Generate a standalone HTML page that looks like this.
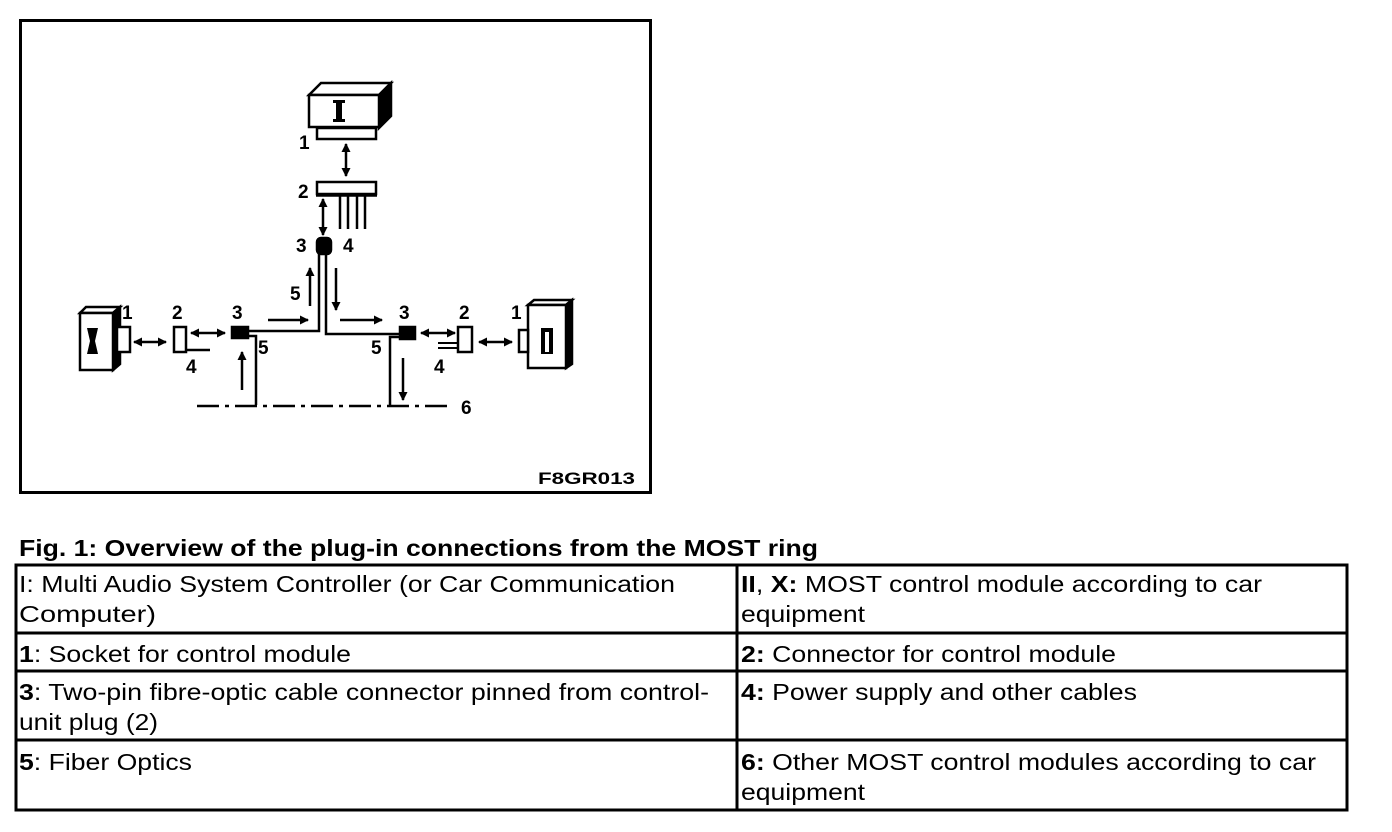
<!DOCTYPE html>
<html><head><meta charset="utf-8"><style>
html,body{margin:0;padding:0;background:#fff}
svg{display:block}
text{font-family:"Liberation Sans",Arial,sans-serif}
.l{font-weight:bold;font-size:19px}
.t{font-size:23px}
</style></head><body>
<svg width="1392" height="832" viewBox="0 0 1392 832" xmlns="http://www.w3.org/2000/svg">
<defs>
<marker id="a" markerWidth="9" markerHeight="9" refX="8" refY="4.5" orient="auto" markerUnits="userSpaceOnUse"><path d="M0,0 L9,4.5 L0,9 z" fill="#000"/></marker>
<marker id="b" markerWidth="9" markerHeight="9" refX="1" refY="4.5" orient="auto" markerUnits="userSpaceOnUse"><path d="M9,0 L0,4.5 L9,9 z" fill="#000"/></marker>
</defs>
<rect x="20.5" y="20.5" width="630" height="472" fill="none" stroke="#000" stroke-width="3"/>
<g stroke="#000" fill="none" stroke-width="2.5">
<path d="M309,95 L321,83 L391,83 L379,95 Z" fill="#fff"/>
<path d="M379,95 L391,83 L391,116 L379,128 Z" fill="#000"/>
<rect x="309" y="95" width="70" height="32" fill="#fff"/>
<rect x="317" y="128" width="59" height="11" fill="#fff"/>
<line x1="346" y1="144" x2="346" y2="176" marker-start="url(#b)" marker-end="url(#a)"/>
<rect x="317" y="182" width="59" height="12" fill="#fff" stroke-width="2.5"/>
<line x1="316" y1="195" x2="377" y2="195" stroke-width="3.5"/>
<line x1="340" y1="196" x2="340" y2="229"/><line x1="348" y1="196" x2="348" y2="229"/>
<line x1="357" y1="196" x2="357" y2="229"/><line x1="365" y1="196" x2="365" y2="229"/>
<line x1="323" y1="199" x2="323" y2="235" marker-start="url(#b)" marker-end="url(#a)"/>
<rect x="317" y="238" width="14" height="16" rx="4" fill="#000"/>
<path d="M248,331 L319,331 L319,254"/>
<path d="M326,254 L326,334 L402,334"/>
<path d="M248,336 L256,336 L256,405"/>
<path d="M402,337 L390,337 L390,405"/>
<line x1="197" y1="406" x2="450" y2="406" stroke-dasharray="22,6,4,6"/>
<line x1="268" y1="320" x2="308" y2="320" marker-end="url(#a)"/>
<line x1="242" y1="390" x2="242" y2="352" marker-end="url(#a)"/>
<line x1="310" y1="306" x2="310" y2="268" marker-end="url(#a)"/>
<line x1="336" y1="268" x2="336" y2="310" marker-end="url(#a)"/>
<line x1="340" y1="320" x2="382" y2="320" marker-end="url(#a)"/>
<line x1="403" y1="358" x2="403" y2="400" marker-end="url(#a)"/>
<path d="M80,313 L86,307 L120,307 L113,313 Z" fill="#fff"/>
<path d="M113,313 L120,307 L120,364 L113,370 Z" fill="#000"/>
<rect x="80" y="313" width="33" height="57" fill="#fff"/>
<rect x="117" y="327" width="13" height="25" fill="#fff"/>
<line x1="134" y1="342" x2="166" y2="342" marker-start="url(#b)" marker-end="url(#a)"/>
<rect x="174" y="327" width="12" height="25" fill="#fff"/>
<line x1="186" y1="350" x2="210" y2="350"/>
<line x1="191" y1="333" x2="225" y2="333" marker-start="url(#b)" marker-end="url(#a)"/>
<rect x="232" y="327" width="16" height="11" fill="#000"/>
<path d="M528,305 L534,300 L572,300 L566,305 Z" fill="#fff"/>
<path d="M566,305 L572,300 L572,364 L566,368 Z" fill="#000"/>
<rect x="528" y="305" width="38" height="63" fill="#fff"/>
<rect x="519" y="330" width="9" height="22" fill="#fff"/>
<line x1="479" y1="342" x2="512" y2="342" marker-start="url(#b)" marker-end="url(#a)"/>
<rect x="458" y="327" width="14" height="25" fill="#fff" stroke-width="2.5"/>
<line x1="438" y1="343" x2="457" y2="343" stroke-width="2"/><line x1="438" y1="348" x2="457" y2="348" stroke-width="2"/>
<line x1="421" y1="333" x2="455" y2="333" marker-start="url(#b)" marker-end="url(#a)"/>
<rect x="400" y="327" width="15" height="12" fill="#000"/>
</g>
<g fill="#000">
<rect x="336" y="100" width="6" height="22"/><rect x="333" y="100" width="12" height="3"/><rect x="333" y="119" width="12" height="3"/>
<path d="M87,328 L98,328 L95,341 L98,354 L87,354 L90,341 Z"/>
<rect x="541" y="328" width="12" height="26"/><rect x="545" y="332" width="4" height="20" fill="#fff"/>
</g>
<g class="l">
<text x="299" y="149">1</text><text x="298" y="198">2</text><text x="296" y="252">3</text><text x="343" y="252">4</text><text x="290" y="300">5</text>
<text x="122" y="319">1</text><text x="172" y="319">2</text><text x="232" y="319">3</text><text x="186" y="373">4</text><text x="258" y="354">5</text>
<text x="399" y="319">3</text><text x="459" y="319">2</text><text x="511" y="319">1</text><text x="371" y="354">5</text><text x="434" y="373">4</text><text x="461" y="414">6</text>
<text x="538" y="484" font-size="17" textLength="97" lengthAdjust="spacingAndGlyphs">F8GR013</text>
</g>
<text x="19" y="556" font-weight="bold" font-size="23" textLength="799" lengthAdjust="spacingAndGlyphs">Fig. 1: Overview of the plug-in connections from the MOST ring</text>
<g stroke="#000" stroke-width="3" fill="none">
<rect x="16" y="565" width="1331" height="245"/>
<line x1="16" y1="633" x2="1347" y2="633"/><line x1="16" y1="671" x2="1347" y2="671"/><line x1="16" y1="740" x2="1347" y2="740"/>
<line x1="737" y1="565" x2="737" y2="810"/>
</g>
<g class="t">
<text x="19" y="592" textLength="656" lengthAdjust="spacingAndGlyphs">I: Multi Audio System Controller (or Car Communication</text>
<text x="19" y="622" textLength="137" lengthAdjust="spacingAndGlyphs">Computer)</text>
<text x="19" y="662" textLength="332" lengthAdjust="spacingAndGlyphs"><tspan font-weight="bold">1</tspan>: Socket for control module</text>
<text x="19" y="700" textLength="690" lengthAdjust="spacingAndGlyphs"><tspan font-weight="bold">3</tspan>: Two-pin fibre-optic cable connector pinned from control-</text>
<text x="19" y="730" textLength="139" lengthAdjust="spacingAndGlyphs">unit plug (2)</text>
<text x="19" y="770" textLength="173" lengthAdjust="spacingAndGlyphs"><tspan font-weight="bold">5</tspan>: Fiber Optics</text>
<text x="741" y="592" textLength="521" lengthAdjust="spacingAndGlyphs"><tspan font-weight="bold">II</tspan>, <tspan font-weight="bold">X:</tspan> MOST control module according to car</text>
<text x="741" y="622" textLength="124" lengthAdjust="spacingAndGlyphs">equipment</text>
<text x="741" y="662" textLength="375" lengthAdjust="spacingAndGlyphs"><tspan font-weight="bold">2:</tspan> Connector for control module</text>
<text x="741" y="700" textLength="396" lengthAdjust="spacingAndGlyphs"><tspan font-weight="bold">4:</tspan> Power supply and other cables</text>
<text x="741" y="770" textLength="575" lengthAdjust="spacingAndGlyphs"><tspan font-weight="bold">6:</tspan> Other MOST control modules according to car</text>
<text x="741" y="800" textLength="124" lengthAdjust="spacingAndGlyphs">equipment</text>
</g>
</svg>
</body></html>
